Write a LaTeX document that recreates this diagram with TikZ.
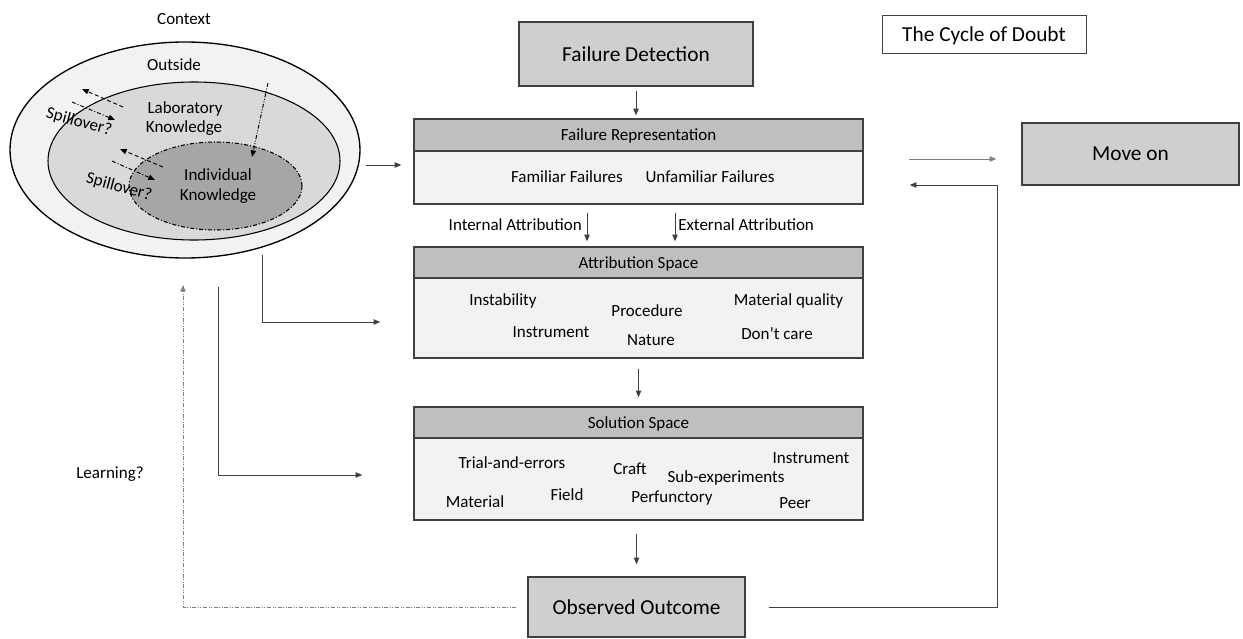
\documentclass[tikz,border=0pt]{standalone}
\usepackage{fontspec}
\setmainfont{Carlito}
\usetikzlibrary{arrows.meta,shapes.geometric,calc}
\definecolor{bigfill}{HTML}{D0CECE}
\definecolor{hdrfill}{HTML}{BFBFBF}
\definecolor{bodyfill}{HTML}{F2F2F2}
\definecolor{ringA}{HTML}{F2F2F2}
\definecolor{ringB}{HTML}{D9D9D9}
\definecolor{ringC}{HTML}{A6A6A6}
\definecolor{linec}{HTML}{404040}
\begin{document}
\begin{tikzpicture}[x=0.75pt,y=-0.75pt,
  small/.style={font=\fontsize{12.75}{15}\selectfont},
  lbl/.style={small,inner sep=0pt,anchor=base},
  bigbox/.style={draw=linec,line width=1pt,fill=bigfill,font=\fontsize{16}{19}\selectfont,inner sep=0pt,text depth=0pt},
  hdr/.style={draw=linec,line width=1pt,fill=hdrfill,small,inner sep=0pt,minimum width=336.75pt,text depth=0pt},
  bodybox/.style={draw=linec,line width=1pt,fill=bodyfill,inner sep=0pt,minimum width=336.75pt},
  ring/.style={ellipse,draw=black,line width=0.8pt,inner sep=0pt},
  tip/.style={-{Triangle[length=5pt,width=4pt]}},
  arr/.style={draw=linec,line width=0.75pt,tip},
  spill/.style={draw=black,line width=0.7pt,tip},
  dashA/.style={dash pattern=on 3pt off 2pt},
  dashB/.style={dash pattern=on 3pt off 1.5pt on 0.8pt off 1.5pt},
  dashC/.style={dash pattern=on 3pt off 1.2pt on 0.7pt off 1.2pt on 0.7pt off 1.2pt}
]
\useasboundingbox (0,0) rectangle (1243,639);

% ---- context ellipses ----
\node[ring,fill=ringA,line width=1pt,minimum width=262.5pt,minimum height=162pt] (outer) at (185,150) {};
\node[ring,fill=ringB,minimum width=219pt,minimum height=118.5pt] (mid) at (194,161) {};
\node[ring,fill=ringC,dashB,minimum width=129.75pt,minimum height=66pt] (inner) at (215.5,186) {};

\node[lbl] (ctx) at (184,24) {Context};
\node[lbl] (outs) at (174,70) {Outside};
\node[lbl] (lab1) at (185,113) {Laboratory};
\node[lbl] (lab2) at (184,132) {Knowledge};
\node[lbl] (ind1) at (218,180) {Individual};
\node[lbl] (ind2) at (218,200) {Knowledge};
\node[small,inner sep=0pt,rotate=-15] (sp1) at (79,122) {Spillover?};
\node[small,inner sep=0pt,rotate=-15] (sp2) at (119,187) {Spillover?};

\coordinate (a1s) at (123,107); \coordinate (a1e) at (82,89);
\coordinate (a2s) at (72,102);  \coordinate (a2e) at (115,120);
\coordinate (a3s) at (163,167); \coordinate (a3e) at (120,149);
\coordinate (a4s) at (112,161); \coordinate (a4e) at (155,180);
\coordinate (a5s) at (268,83);  \coordinate (a5e) at (252,157);
\draw[spill,dashA] (a1s) -- (a1e);
\draw[spill,dashB] (a2s) -- (a2e);
\draw[spill,dashA] (a3s) -- (a3e);
\draw[spill,dashB] (a4s) -- (a4e);
\draw[spill,dashC] (a5s) -- (a5e);

% ---- main boxes ----
\node[bigbox,minimum width=175.5pt,minimum height=48pt] (fd) at (636,54) {Failure Detection};
\node[draw=linec,line width=0.75pt,fill=white,minimum width=153pt,minimum height=28.5pt,inner sep=0pt,text depth=0pt,font=\fontsize{16}{19}\selectfont] (title) at (984,34) {The Cycle of Doubt};
\node[bigbox,minimum width=162.75pt,minimum height=46.5pt] (move) at (1130.5,154) {Move on};
\node[bigbox,minimum width=162.75pt,minimum height=45pt] (obs) at (636.5,607) {Observed Outcome};

\node[hdr,minimum height=24pt] (frh) at (638.5,135) {Failure Representation};
\node[bodybox,minimum height=39.75pt] (frb) at (638.5,177.5) {};
\node[hdr,minimum height=23.25pt] (ash) at (638.5,262.5) {Attribution Space};
\node[bodybox,minimum height=60pt] (asb) at (638.5,318) {};
\node[hdr,minimum height=23.25pt] (ssh) at (638.5,422.5) {Solution Space};
\node[bodybox,minimum height=61.5pt] (ssb) at (638.5,479) {};

\node[lbl] (ff) at (567,182) {Familiar Failures};
\node[lbl] (uf) at (710,182) {Unfamiliar Failures};
\node[lbl,anchor=base east] (intl) at (582,230) {Internal Attribution};
\node[lbl,anchor=base west] (extl) at (678,230) {External Attribution};

\node[lbl] (t1) at (503,305) {Instability};
\node[lbl] (t2) at (647,316) {Procedure};
\node[lbl] (t3) at (788.5,305) {Material quality};
\node[lbl] (t4) at (551,337) {Instrument};
\node[lbl] (t5) at (651,345) {Nature};
\node[lbl] (t6) at (777,339) {Don’t care};

\node[lbl] (s1) at (512,468) {Trial-and-errors};
\node[lbl] (s2) at (630,474) {Craft};
\node[lbl] (s3) at (726,482) {Sub-experiments};
\node[lbl] (s4) at (811,463) {Instrument};
\node[lbl] (s5) at (475,507) {Material};
\node[lbl] (s6) at (567,500) {Field};
\node[lbl] (s7) at (672,502) {Perfunctory};
\node[lbl] (s8) at (795,508) {Peer};

\node[lbl] (learn) at (110,478) {Learning?};

% ---- connectors ----
\draw[arr,shorten <=3pt,shorten >=2.25pt] (fd.south) -- (fd.south |- frh.north);
\coordinate (ia) at (587,0);
\coordinate (ea) at (675,0);
\draw[arr,shorten <=6pt,shorten >=3.75pt] (frb.south -| ia) -- (ash.north -| ia);
\draw[arr,shorten <=6pt,shorten >=3.75pt] (frb.south -| ea) -- (ash.north -| ea);
\draw[arr,shorten <=7.5pt,shorten >=6.75pt] (asb.south) -- (ssh.north);
\draw[arr,shorten <=9.75pt,shorten >=9pt] (ssb.south -| obs.north) -- (obs.north);

\coordinate (m1) at (0,159);
\draw[arr,draw=gray,shorten <=33.75pt,shorten >=18.75pt] (frb.east |- m1) -- (move.west |- m1);
\coordinate (rc) at (997,185);
\draw[arr,shorten <=17.25pt,shorten >=34.5pt] (obs.east) -- (obs.east -| rc) -- (rc) -- (frb.east |- rc);

\coordinate (e1) at (0,165);
\draw[arr,shorten <=3.75pt,shorten >=9pt] (outer.east |- e1) -- (frb.west |- e1);
\coordinate (e2) at (262,255); \coordinate (e2b) at (0,322);
\draw[arr,shorten >=24.75pt] (e2) |- (asb.west |- e2b);
\coordinate (e3) at (218,287); \coordinate (e3b) at (0,475);
\draw[arr,shorten >=38.25pt] (e3) |- (ssb.west |- e3b);

\coordinate (lc) at (183,285);
\draw[draw=gray,line width=0.75pt,dashC,tip,shorten <=8.25pt] (obs.west) -| (lc);
\end{tikzpicture}
\end{document}
